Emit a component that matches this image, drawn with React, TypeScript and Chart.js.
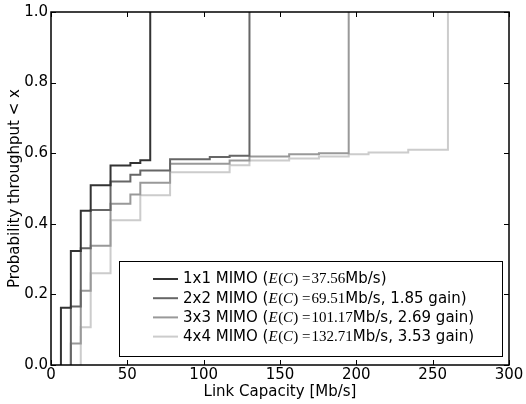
import React, { useEffect, useRef } from "react";
import { Chart, registerables } from "chart.js";

Chart.register(...registerables);

// ---- data ----
const xTickValues = [0, 50, 100, 150, 200, 250, 300];
const yTickValues = [0, 0.2, 0.4, 0.6, 0.8, 1.0];

const rate1x1 = [6.5, 6.5, 13, 19.5, 26, 39, 52, 58.5, 65];
const cdf1x1 = [0, 0.162, 0.323, 0.437, 0.509, 0.565, 0.572, 0.58, 1.0];

const rate2x2 = [13, 13, 19.5, 26, 39, 52, 58.5, 78, 104, 117, 130];
const cdf2x2 = [0, 0.166, 0.331, 0.439, 0.52, 0.539, 0.551, 0.583, 0.589, 0.593, 1.0];

const rate3x3 = [13, 13, 19.5, 26, 39, 52, 58.5, 78, 117, 130, 156, 175.5, 195];
const cdf3x3 = [0, 0.061, 0.21, 0.338, 0.457, 0.483, 0.516, 0.57, 0.579, 0.591, 0.597, 0.6, 1.0];

const rate4x4 = [19.5, 19.5, 26, 39, 58.5, 78, 117, 130, 156, 175.5, 195, 208, 234, 260];
const cdf4x4 = [0, 0.107, 0.26, 0.41, 0.481, 0.546, 0.566, 0.579, 0.585, 0.591, 0.597, 0.602, 0.61, 1.0];

const seriesNames = ["1x1 MIMO", "2x2 MIMO", "3x3 MIMO", "4x4 MIMO"];
const expectedCapacity = ["37.56", "69.51", "101.17", "132.71"];
const gains = ["", "1.85", "2.69", "3.53"];
const seriesColors = ["#333333", "#666666", "#999999", "#cccccc"];

const xTitle = "Link Capacity [Mb/s]";
const yTitle = "Probability throughput < x";

const rates = [rate1x1, rate2x2, rate3x3, rate4x4];
const cdfs = [cdf1x1, cdf2x2, cdf3x3, cdf4x4];

const SANS = "'DejaVu Sans'";
const SERIF = "'Liberation Serif'";

const framePlugin = {
  id: "frameTicks",
  afterDatasetsDraw(chart: any) {
    const { ctx, chartArea } = chart;
    const { left, right, top, bottom } = chartArea;
    const xs = chart.scales.x;
    const ys = chart.scales.y;
    ctx.save();
    ctx.strokeStyle = "#000";
    ctx.lineWidth = 1;
    const tl = 5;
    ctx.beginPath();
    for (const v of xTickValues) {
      const px = Math.round(xs.getPixelForValue(v)) + 0.5;
      ctx.moveTo(px, bottom);
      ctx.lineTo(px, bottom - tl);
      ctx.moveTo(px, top);
      ctx.lineTo(px, top + tl);
    }
    for (const v of yTickValues) {
      const py = Math.round(ys.getPixelForValue(v)) + 0.5;
      ctx.moveTo(left, py);
      ctx.lineTo(left + tl, py);
      ctx.moveTo(right, py);
      ctx.lineTo(right - tl, py);
    }
    ctx.stroke();
    ctx.lineWidth = 1.5;
    ctx.strokeRect(left, top, right - left, bottom - top);

    // legend
    const bx = 119.5, by = 261.5, bw = 383, bh = 95;
    ctx.fillStyle = "#fff";
    ctx.fillRect(bx, by, bw, bh);
    ctx.lineWidth = 1;
    ctx.strokeStyle = "#000";
    ctx.strokeRect(bx, by, bw, bh);
    const fs = 15;
    const ms = 15;
    for (let i = 0; i < seriesNames.length; i++) {
      const y = 279 + i * 19.2;
      ctx.strokeStyle = seriesColors[i];
      ctx.lineWidth = 2;
      ctx.beginPath();
      ctx.moveTo(153, y);
      ctx.lineTo(178, y);
      ctx.stroke();
      const runs: { t: string; f: string; gap?: number }[] = [
        { t: seriesNames[i] + " (", f: `${fs}px ${SANS}` },
        { t: "E", f: `italic ${ms}px ${SERIF}`, gap: 0.5 },
        { t: "(", f: `${ms}px ${SERIF}` },
        { t: "C", f: `italic ${ms}px ${SERIF}` },
        { t: ")", f: `${ms}px ${SERIF}`, gap: 4 },
        { t: "=", f: `${ms}px ${SERIF}`, gap: 1 },
        { t: expectedCapacity[i], f: `${ms}px ${SERIF}` },
        { t: gains[i] ? "Mb/s, " + gains[i] + " gain)" : "Mb/s)", f: `${fs}px ${SANS}` },
      ];
      let x = 183;
      ctx.fillStyle = "#000";
      ctx.textBaseline = "middle";
      ctx.textAlign = "left";
      for (const r of runs) {
        ctx.font = r.f;
        ctx.fillText(r.t, x, y + 0.5);
        x += ctx.measureText(r.t).width + (r.gap || 0);
      }
    }
    ctx.restore();
  },
};

export default function App() {
  const ref = useRef<HTMLCanvasElement | null>(null);
  useEffect(() => {
    if (!ref.current) return;
    const datasets = seriesNames.map((name, i) => ({
      label: name,
      data: rates[i].map((r, j) => ({ x: r, y: cdfs[i][j] })),
      borderColor: seriesColors[i],
      backgroundColor: seriesColors[i],
      borderWidth: 2,
      stepped: true as any,
      pointRadius: 0,
      fill: false,
    }));
    const tickFont = { family: "DejaVu Sans", size: 15 };
    const titleFont = { family: "DejaVu Sans", size: 15 };
    const chart = new Chart(ref.current, {
      type: "line",
      data: { datasets },
      options: {
        responsive: false,
        maintainAspectRatio: false,
        animation: false,
        layout: { padding: { top: 8, right: 17, left: 0, bottom: 0 } },
        plugins: { legend: { display: false }, tooltip: { enabled: false } },
        scales: {
          x: {
            type: "linear",
            min: 0,
            max: 300,
            grid: { display: false, drawTicks: false },
            border: { display: false },
            ticks: { stepSize: 50, color: "#000", font: tickFont, padding: 1, maxRotation: 0, autoSkip: false },
            title: { display: true, text: xTitle, color: "#000", font: titleFont, padding: { top: 0, bottom: 3 } },
            afterFit: (s: any) => { s.height = 39; },
          },
          y: {
            type: "linear",
            min: 0,
            max: 1,
            grid: { display: false, drawTicks: false },
            border: { display: false },
            ticks: {
              stepSize: 0.2,
              color: "#000",
              font: tickFont,
              padding: 3,
              callback: (v: any) => Number(v).toFixed(1),
            },
            title: { display: true, text: yTitle, color: "#000", font: titleFont, padding: { top: 6, bottom: 0 } },
            afterFit: (s: any) => { s.width = 51; },
          },
        },
      },
      plugins: [framePlugin],
    });
    return () => chart.destroy();
  }, []);
  return (
    <div style={{ position: "absolute", left: 0, top: 0, width: 526, height: 404, background: "#fff" }}>
      <canvas ref={ref} width={526} height={404} style={{ width: 526, height: 404 }} />
    </div>
  );
}
